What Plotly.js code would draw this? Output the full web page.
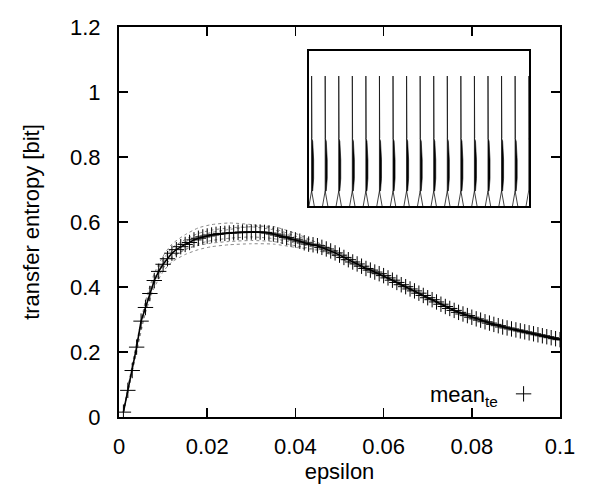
<!DOCTYPE html>
<html>
<head>
<meta charset="utf-8">
<script src="https://cdn.plot.ly/plotly-3.0.1.min.js"></script>
<style>html,body{margin:0;padding:0;background:#fff;}#chart{width:600px;height:487px;}</style>
</head>
<body>
<div id="chart"></div>
<script>
// ---- mean transfer entropy (markers every 0.001) ----
const epsilon = [0.001,0.002,0.003,0.004,0.005,0.006,0.007,0.008,0.009,0.010,
  0.011,0.012,0.013,0.014,0.015,0.016,0.017,0.018,0.019,0.020,
  0.021,0.022,0.023,0.024,0.025,0.026,0.027,0.028,0.029,0.030,
  0.031,0.032,0.033,0.034,0.035,0.036,0.037,0.038,0.039,0.040,
  0.041,0.042,0.043,0.044,0.045,0.046,0.047,0.048,0.049,0.050,
  0.051,0.052,0.053,0.054,0.055,0.056,0.057,0.058,0.059,0.060,
  0.061,0.062,0.063,0.064,0.065,0.066,0.067,0.068,0.069,0.070,
  0.071,0.072,0.073,0.074,0.075,0.076,0.077,0.078,0.079,0.080,
  0.081,0.082,0.083,0.084,0.085,0.086,0.087,0.088,0.089,0.090,
  0.091,0.092,0.093,0.094,0.095,0.096,0.097,0.098,0.099,0.100];
const meanTE = [0.015,0.082,0.143,0.215,0.295,0.337,0.380,0.420,0.448,0.470,
  0.487,0.504,0.515,0.524,0.531,0.537,0.545,0.550,0.554,0.557,
  0.560,0.562,0.564,0.565,0.566,0.567,0.568,0.569,0.569,0.569,
  0.569,0.569,0.568,0.566,0.563,0.560,0.556,0.552,0.548,0.545,
  0.541,0.536,0.532,0.530,0.527,0.522,0.517,0.511,0.505,0.498,
  0.491,0.484,0.477,0.471,0.464,0.457,0.452,0.446,0.441,0.435,
  0.428,0.421,0.414,0.407,0.401,0.394,0.388,0.381,0.374,0.367,
  0.361,0.354,0.347,0.340,0.334,0.328,0.322,0.317,0.312,0.307,
  0.302,0.298,0.293,0.289,0.285,0.281,0.277,0.274,0.271,0.268,
  0.265,0.262,0.259,0.256,0.253,0.250,0.247,0.244,0.241,0.238];

// ---- individual runs (dotted) ----
const runEps = [0.001,0.002,0.004,0.006,0.008,0.010,0.012,0.015,0.018,0.021,0.025,
  0.030,0.035,0.040,0.045,0.050,0.055,0.060,0.070,0.080,0.090,0.100];
const run1 = [0.015,0.090,0.230,0.357,0.442,0.495,0.532,0.561,0.582,0.592,0.597,0.592,0.580,0.557,0.537,0.506,0.470,0.440,0.371,0.310,0.271,0.241];
const run2 = [0.015,0.075,0.200,0.320,0.398,0.447,0.477,0.500,0.515,0.524,0.530,0.533,0.532,0.522,0.513,0.489,0.457,0.429,0.363,0.303,0.265,0.235];
const run3 = [0.015,0.086,0.223,0.350,0.433,0.484,0.520,0.546,0.565,0.575,0.582,0.585,0.576,0.553,0.532,0.502,0.467,0.438,0.369,0.309,0.270,0.240];
const run4 = [0.015,0.078,0.207,0.327,0.408,0.457,0.490,0.515,0.533,0.543,0.550,0.554,0.549,0.535,0.519,0.492,0.460,0.431,0.364,0.304,0.266,0.236];
const run5 = [0.015,0.084,0.219,0.343,0.426,0.477,0.511,0.538,0.557,0.568,0.577,0.586,0.586,0.565,0.536,0.505,0.468,0.437,0.368,0.308,0.269,0.239];
const run6 = [0.015,0.080,0.210,0.330,0.413,0.460,0.493,0.515,0.528,0.535,0.540,0.543,0.540,0.527,0.514,0.490,0.458,0.430,0.364,0.304,0.266,0.236];
const runs = [run1, run2, run3, run4, run5, run6];

// ---- inset: spike train ----
const spikeTimes = [0,1,2,3,4,5,6,7,8,9,10,11,12,13,14,15,16];
const spikeLineDx = [-0.2, 0, 0.2, null, 0, 0, 0.02];
const spikeLineY  = [0, 0.1, 0, null, 0.1, 0.84, 0.44];
const spikeFillDx = [0, 0.08, 0.15, 0.15, 0.08, 0];
const spikeFillY  = [0.44, 0.42, 0.3, 0.18, 0.1, 0.1];

const FONT = 'Liberation Sans, Arial, Helvetica, sans-serif';
const FS = 22;

const traces = [];
runs.forEach(r => {
  traces.push({x: runEps, y: r, type: 'scatter', mode: 'lines', showlegend: false,
    line: {color: '#8a8a8a', width: 1, dash: 'dot', shape: 'spline', smoothing: 0.6}, hoverinfo: 'skip'});
});
traces.push({x: epsilon, y: meanTE, type: 'scatter', mode: 'lines', showlegend: false,
  line: {color: '#000', width: 1.6}});
traces.push({x: epsilon, y: meanTE, type: 'scatter', mode: 'markers', name: ' ',
  marker: {symbol: 'cross-thin-open', size: 11, color: '#000', line: {color: '#000', width: 1}}});

// inset traces
const lx = [], ly = [], fx = [], fy = [];
spikeTimes.forEach(t => {
  spikeLineDx.forEach((d, i) => { lx.push(d === null ? null : t + d); ly.push(spikeLineY[i]); });
  lx.push(null); ly.push(null);
  spikeFillDx.forEach((d, i) => { fx.push(t + d); fy.push(spikeFillY[i]); });
  fx.push(null); fy.push(null);
});
traces.push({x: fx, y: fy, xaxis: 'x2', yaxis: 'y2', type: 'scatter', mode: 'lines', fill: 'toself',
  fillcolor: '#000', line: {color: '#000', width: 0.6}, showlegend: false, hoverinfo: 'skip'});
traces.push({x: lx, y: ly, xaxis: 'x2', yaxis: 'y2', type: 'scatter', mode: 'lines',
  line: {color: '#111', width: 0.8}, showlegend: false, connectgaps: false, hoverinfo: 'skip'});

const layout = {
  width: 600, height: 487,
  margin: {l: 119, r: 40, t: 27, b: 70, pad: 0},
  paper_bgcolor: '#fff', plot_bgcolor: '#fff',
  font: {family: FONT, size: FS, color: '#000'},
  xaxis: {
    range: [0, 0.1], tickvals: [0, 0.02, 0.04, 0.06, 0.08, 0.1],
    ticktext: ['0', '0.02', '0.04', '0.06', '0.08', '0.1'],
    ticks: 'inside', ticklen: 9, tickwidth: 1.5, tickcolor: '#000',
    showline: true, linewidth: 2, linecolor: '#000', mirror: 'ticks',
    showgrid: false, zeroline: false, ticklabelstandoff: 9,
    title: {text: 'epsilon', font: {family: FONT, size: FS}, standoff: 5}
  },
  yaxis: {
    range: [0, 1.2], tickvals: [0, 0.2, 0.4, 0.6, 0.8, 1, 1.2],
    ticktext: ['0', '0.2', '0.4', '0.6', '0.8', '1', '1.2'],
    ticks: 'inside', ticklen: 9, tickwidth: 1.5, tickcolor: '#000',
    showline: true, linewidth: 2, linecolor: '#000', mirror: 'ticks',
    showgrid: false, zeroline: false, ticklabelstandoff: 12,
    title: {text: 'transfer entropy [bit]', font: {family: FONT, size: FS}, standoff: 24}
  },
  xaxis2: {domain: [0.430, 0.929], anchor: 'y2', range: [-0.22, 16],
    showline: true, linewidth: 2, linecolor: '#000', mirror: true,
    showticklabels: false, ticks: '', showgrid: false, zeroline: false},
  yaxis2: {domain: [0.540, 0.938], anchor: 'x2', range: [0, 1],
    showline: true, linewidth: 2, linecolor: '#000', mirror: true,
    showticklabels: false, ticks: '', showgrid: false, zeroline: false},
  showlegend: true,
  legend: {x: 0.99, xanchor: 'right', y: 0.005, yanchor: 'bottom', bgcolor: 'rgba(0,0,0,0)',
    font: {family: FONT, size: FS}, itemwidth: 30},
  annotations: [{text: 'mean<sub>te</sub>', xref: 'paper', yref: 'paper', x: 0.865, y: 0.012,
    xanchor: 'right', yanchor: 'bottom', showarrow: false, font: {family: FONT, size: FS, color: '#000'}}]
};

Plotly.newPlot('chart', traces, layout, {staticPlot: true, displayModeBar: false});
</script>
</body>
</html>
